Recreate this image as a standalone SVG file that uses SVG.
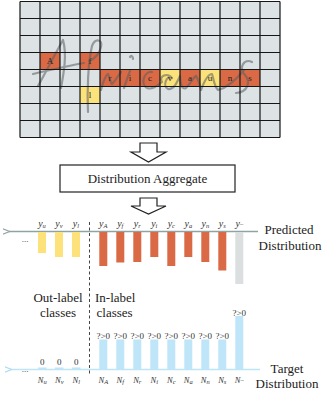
<svg xmlns="http://www.w3.org/2000/svg" width="332" height="398" viewBox="0 0 332 398">
<defs>
<style>
text{font-family:"Liberation Serif","Times New Roman","DejaVu Serif",serif}
.gl{stroke:#151515;stroke-width:1.2;fill:none}
.or{fill:#d96a45}
.ye{fill:#fbe27a}
.cl{font-size:9px;fill:#222;text-anchor:middle}
.hw{fill:none;stroke:#5a5f62;stroke-width:2.2;stroke-linecap:round;stroke-linejoin:round;opacity:0.55}
.blk{fill:#fff;stroke:#222;stroke-width:1.2}
.lbl{font-size:13px;fill:#222}
.ylab{font-style:italic;font-size:10px;fill:#333;text-anchor:middle}
.nlab{font-style:italic;font-size:8.5px;fill:#333;text-anchor:middle}
.sub{font-size:6.5px}
.q{font-size:9px;fill:#333;text-anchor:middle}
.pbar-o{fill:#d96a45}
.pbar-y{fill:#fde27c}
.pbar-g{fill:#dbdfdf}
.tbar{fill:#bfe6f8}
</style>
<marker id="ahP" viewBox="0 0 10 10" refX="1" refY="5" markerWidth="7" markerHeight="7" orient="auto" markerUnits="userSpaceOnUse"><path d="M10,1 L0,5 L10,9" fill="none" stroke="#8fa3a4" stroke-width="1.6"/></marker>
<marker id="ahT" viewBox="0 0 10 10" refX="1" refY="5" markerWidth="7" markerHeight="7" orient="auto" markerUnits="userSpaceOnUse"><path d="M10,1 L0,5 L10,9" fill="none" stroke="#aadcf3" stroke-width="1.6"/></marker>
</defs>

<g id="grid">
<rect x="20" y="1.5" width="260" height="136" fill="#dde3e5"/>
<rect class="or" x="40" y="52.5" width="20" height="17"/>
<rect class="or" x="80" y="52.5" width="20" height="17"/>
<rect class="or" x="100" y="69.5" width="60" height="17"/>
<rect class="ye" x="160" y="69.5" width="20" height="17"/>
<rect class="or" x="180" y="69.5" width="20" height="17"/>
<rect class="ye" x="200" y="69.5" width="20" height="17"/>
<rect class="or" x="220" y="69.5" width="40" height="17"/>
<rect class="ye" x="80" y="86.5" width="20" height="17"/>
<g class="hw">
<path d="M38,86 C46,72 55,54 63,40 C67,54 64,72 61,88"/>
<path d="M33,74 C50,70 67,66 84,63"/>
<path d="M88,112 C87,92 88,62 92,46 C95,38 103,39 101,47 C99,55 94,59 89,61"/>
<path d="M101,90 C103,82 105,76 108,74 C110,78 110,82 112,84 C116,80 118,76 121,72"/>
<path d="M124,88 C126,82 128,76 130,71"/>
<path d="M130,57 C131,55 133,56 133,59"/>
<path d="M152,72 C144,71 140,84 147,88 C152,90 157,86 162,82 C158,76 168,72 172,78 C167,74 162,86 168,89 C174,90 177,82 180,76 C180,84 182,90 186,88 C190,84 193,78 196,76 C199,80 200,86 201,90 C204,82 208,74 212,74 C214,80 214,86 218,90 C226,88 236,80 244,70"/>
<path d="M252,62 C244,58 238,68 245,75 C251,82 248,92 236,93"/>
</g>
<g class="gl">
<path d="M20,1.5V137.5M40,1.5V137.5M60,1.5V137.5M80,1.5V137.5M100,1.5V137.5M120,1.5V137.5M140,1.5V137.5M160,1.5V137.5M180,1.5V137.5M200,1.5V137.5M220,1.5V137.5M240,1.5V137.5M260,1.5V137.5M280,1.5V137.5"/>
<path d="M20,1.5H280M20,18.5H280M20,35.5H280M20,52.5H280M20,69.5H280M20,86.5H280M20,103.5H280M20,120.5H280M20,137.5H280"/>
</g>
<text class="cl" x="50" y="64">A</text>
<text class="cl" x="90" y="64">f</text>
<text class="cl" x="110" y="81">r</text>
<text class="cl" x="130" y="81">i</text>
<text class="cl" x="150" y="81">c</text>
<text class="cl" x="170" y="81">v</text>
<text class="cl" x="190" y="81">a</text>
<text class="cl" x="210" y="81">u</text>
<text class="cl" x="230" y="81">n</text>
<text class="cl" x="250" y="81">s</text>
<text class="cl" x="90" y="98">l</text>
</g>

<g id="arrow1"><path class="blk" d="M140,143 H157 V152 H166 L148.5,162 L131,152 H140 Z"/></g>
<g id="aggregate">
<rect class="blk" x="60" y="165" width="175" height="27"/>
<text class="lbl" x="147.5" y="182.5" text-anchor="middle">Distribution Aggregate</text>
</g>
<g id="arrow2"><path class="blk" d="M140,198 H157 V206 H166 L148.5,214 L131,206 H140 Z"/></g>

<g id="connectors">
<line x1="258" y1="231.5" x2="9" y2="231.5" stroke="#8fa3a4" stroke-width="1.5" marker-end="url(#ahP)"/>
<line x1="260" y1="369.5" x2="11" y2="369.5" stroke="#bde5f7" stroke-width="1.5" marker-end="url(#ahT)"/>
<line x1="89.5" y1="222" x2="89.5" y2="376" stroke="#444" stroke-width="1" stroke-dasharray="3,2.5"/>
</g>

<g id="predicted">
<rect class="pbar-y" x="38" y="232" width="8" height="21"/>
<rect class="pbar-y" x="55" y="232" width="8" height="25"/>
<rect class="pbar-y" x="72" y="232" width="8" height="25"/>
<rect class="pbar-o" x="99.3" y="232" width="8" height="34"/>
<rect class="pbar-o" x="116.3" y="232" width="8" height="30.5"/>
<rect class="pbar-o" x="133.3" y="232" width="8" height="30"/>
<rect class="pbar-o" x="150.3" y="232" width="8" height="25"/>
<rect class="pbar-o" x="167.3" y="232" width="8" height="34"/>
<rect class="pbar-o" x="184.3" y="232" width="8" height="25"/>
<rect class="pbar-o" x="201.3" y="232" width="8" height="30"/>
<rect class="pbar-o" x="218.3" y="232" width="8" height="38.5"/>
<rect class="pbar-g" x="235.3" y="232" width="8" height="52"/>
<text class="q" x="25" y="242">...</text>
<text class="ylab" x="42" y="226.5">y<tspan class="sub" dy="1.5">u</tspan></text>
<text class="ylab" x="59" y="226.5">y<tspan class="sub" dy="1.5">v</tspan></text>
<text class="ylab" x="76" y="226.5">y<tspan class="sub" dy="1.5">l</tspan></text>
<text class="ylab" x="103.3" y="226.5">y<tspan class="sub" dy="1.5">A</tspan></text>
<text class="ylab" x="120.3" y="226.5">y<tspan class="sub" dy="1.5">f</tspan></text>
<text class="ylab" x="137.3" y="226.5">y<tspan class="sub" dy="1.5">r</tspan></text>
<text class="ylab" x="154.3" y="226.5">y<tspan class="sub" dy="1.5">i</tspan></text>
<text class="ylab" x="171.3" y="226.5">y<tspan class="sub" dy="1.5">c</tspan></text>
<text class="ylab" x="188.3" y="226.5">y<tspan class="sub" dy="1.5">a</tspan></text>
<text class="ylab" x="205.3" y="226.5">y<tspan class="sub" dy="1.5">n</tspan></text>
<text class="ylab" x="222.3" y="226.5">y<tspan class="sub" dy="1.5">s</tspan></text>
<text class="ylab" x="239.3" y="226.5">y<tspan class="sub" dy="-1">–</tspan></text>
<text class="lbl" x="289" y="234" text-anchor="middle">Predicted</text>
<text class="lbl" x="290" y="250" text-anchor="middle">Distribution</text>
</g>

<g id="classes">
<text class="lbl" x="58" y="302" text-anchor="middle">Out-label</text>
<text class="lbl" x="58" y="317" text-anchor="middle">classes</text>
<text class="lbl" x="95" y="302">In-label</text>
<text class="lbl" x="96.5" y="317">classes</text>
</g>

<g id="target">
<rect class="tbar" x="38" y="367.5" width="8.5" height="2"/>
<rect class="tbar" x="55" y="367.5" width="8.5" height="2"/>
<rect class="tbar" x="72" y="367.5" width="8.5" height="2"/>
<rect class="tbar" x="99.3" y="339.5" width="8" height="30"/>
<rect class="tbar" x="116.3" y="339.5" width="8" height="30"/>
<rect class="tbar" x="133.3" y="339.5" width="8" height="30"/>
<rect class="tbar" x="150.3" y="339.5" width="8" height="30"/>
<rect class="tbar" x="167.3" y="339.5" width="8" height="30"/>
<rect class="tbar" x="184.3" y="339.5" width="8" height="30"/>
<rect class="tbar" x="201.3" y="339.5" width="8" height="30"/>
<rect class="tbar" x="218.3" y="339.5" width="8" height="30"/>
<rect class="tbar" x="235.3" y="316" width="8" height="53.5"/>
<text class="q" x="25" y="372">...</text>
<text class="q" x="42.3" y="365">0</text>
<text class="q" x="59.3" y="365">0</text>
<text class="q" x="76.3" y="365">0</text>
<text class="q" x="103.3" y="339">?&gt;0</text>
<text class="q" x="120.3" y="339">?&gt;0</text>
<text class="q" x="137.3" y="339">?&gt;0</text>
<text class="q" x="154.3" y="339">?&gt;0</text>
<text class="q" x="171.3" y="339">?&gt;0</text>
<text class="q" x="188.3" y="339">?&gt;0</text>
<text class="q" x="205.3" y="339">?&gt;0</text>
<text class="q" x="222.3" y="339">?&gt;0</text>
<text class="q" x="239.3" y="315.5">?&gt;0</text>
<text class="nlab" x="42.3" y="383">N<tspan class="sub" dy="1">u</tspan></text>
<text class="nlab" x="59.3" y="383">N<tspan class="sub" dy="1">v</tspan></text>
<text class="nlab" x="76.3" y="383">N<tspan class="sub" dy="1">l</tspan></text>
<text class="nlab" x="103.3" y="383">N<tspan class="sub" dy="1">A</tspan></text>
<text class="nlab" x="120.3" y="383">N<tspan class="sub" dy="1">f</tspan></text>
<text class="nlab" x="137.3" y="383">N<tspan class="sub" dy="1">r</tspan></text>
<text class="nlab" x="154.3" y="383">N<tspan class="sub" dy="1">i</tspan></text>
<text class="nlab" x="171.3" y="383">N<tspan class="sub" dy="1">c</tspan></text>
<text class="nlab" x="188.3" y="383">N<tspan class="sub" dy="1">a</tspan></text>
<text class="nlab" x="205.3" y="383">N<tspan class="sub" dy="1">n</tspan></text>
<text class="nlab" x="222.3" y="383">N<tspan class="sub" dy="1">s</tspan></text>
<text class="nlab" x="239.3" y="383">N<tspan class="sub" dy="-1">–</tspan></text>
<text class="lbl" x="287" y="373" text-anchor="middle">Target</text>
<text class="lbl" x="287" y="388" text-anchor="middle">Distribution</text>
</g>
</svg>
